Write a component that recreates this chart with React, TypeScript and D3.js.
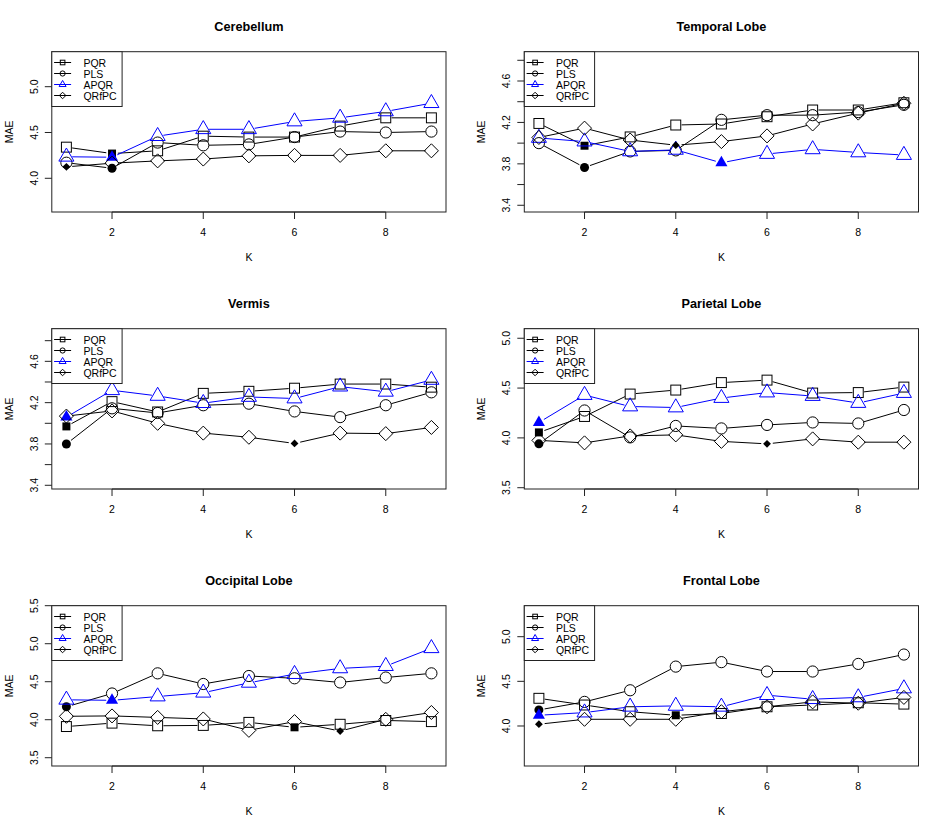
import React from "react";
import * as d3 from "d3";

const K = [1, 2, 3, 4, 5, 6, 7, 8, 9];
const methods = ["PQR", "PLS", "APQR", "QRfPC"];
const methodColors = ["#000000", "#000000", "#0000ff", "#000000"];
const regions = ["Cerebellum", "Temporal Lobe", "Vermis", "Parietal Lobe", "Occipital Lobe", "Frontal Lobe"];

// series order: PQR, PLS, APQR, QRfPC
const cerebellum = [
  [4.34, 4.27, 4.3, 4.46, 4.45, 4.45, 4.57, 4.66, 4.66],
  [4.17, 4.11, 4.39, 4.36, 4.37, 4.45, 4.51, 4.5, 4.51],
  [4.235, 4.23, 4.46, 4.535, 4.535, 4.62, 4.66, 4.73, 4.82],
  [4.125, 4.165, 4.19, 4.21, 4.245, 4.25, 4.25, 4.3, 4.3],
];
const temporal = [
  [4.19, 3.975, 4.06, 4.175, 4.185, 4.255, 4.32, 4.32, 4.39],
  [4.0, 3.765, 3.92, 3.93, 4.225, 4.27, 4.27, 4.3, 4.37],
  [4.05, 4.015, 3.92, 3.935, 3.81, 3.895, 3.94, 3.91, 3.885],
  [4.055, 4.145, 4.03, 3.98, 4.015, 4.07, 4.185, 4.29, 4.385],
];
const vermis = [
  [3.97, 4.21, 4.11, 4.29, 4.31, 4.34, 4.38, 4.38, 4.35],
  [3.8, 4.145, 4.1, 4.175, 4.19, 4.115, 4.06, 4.175, 4.3],
  [4.06, 4.32, 4.265, 4.195, 4.255, 4.24, 4.355, 4.305, 4.42],
  [4.07, 4.12, 4.0, 3.905, 3.865, 3.805, 3.905, 3.9, 3.96],
];
const parietal = [
  [4.055, 4.215, 4.44, 4.48, 4.555, 4.58, 4.45, 4.455, 4.51],
  [3.94, 4.275, 4.005, 4.12, 4.095, 4.13, 4.155, 4.145, 4.28],
  [4.155, 4.43, 4.315, 4.305, 4.4, 4.455, 4.42, 4.35, 4.45],
  [3.975, 3.95, 4.02, 4.03, 3.965, 3.94, 3.99, 3.957, 3.957],
];
const occipital = [
  [3.91, 3.955, 3.92, 3.925, 3.965, 3.9, 3.94, 3.99, 3.975],
  [4.17, 4.345, 4.61, 4.47, 4.575, 4.545, 4.49, 4.555, 4.61],
  [4.262, 4.255, 4.305, 4.355, 4.485, 4.6, 4.675, 4.705, 4.94],
  [4.045, 4.05, 4.03, 4.01, 3.86, 3.975, 3.85, 4.005, 4.095],
];
const frontal = [
  [4.31, 4.235, 4.16, 4.12, 4.14, 4.215, 4.235, 4.26, 4.245],
  [4.18, 4.27, 4.4, 4.665, 4.715, 4.61, 4.61, 4.695, 4.8],
  [4.12, 4.15, 4.215, 4.225, 4.215, 4.345, 4.3, 4.32, 4.42],
  [4.02, 4.075, 4.075, 4.075, 4.16, 4.215, 4.27, 4.255, 4.32],
];
const regionData = [cerebellum, temporal, vermis, parietal, occipital, frontal];

const yLimits = [
  [3.632, 5.382],
  [3.335, 4.883],
  [3.364, 4.916],
  [3.487, 5.096],
  [3.391, 5.5],
  [3.552, 5.347],
];
const yTicks = [
  [4.0, 4.5, 5.0],
  [3.4, 3.6, 3.8, 4.0, 4.2, 4.4, 4.6, 4.8],
  [3.4, 3.6, 3.8, 4.0, 4.2, 4.4, 4.6, 4.8],
  [3.5, 4.0, 4.5, 5.0],
  [3.5, 4.0, 4.5, 5.0, 5.5],
  [4.0, 4.5, 5.0],
];
const yLabelStep = [1, 2, 2, 1, 1, 1];
const xTicks = [2, 4, 6, 8];

const W = 945;
const H = 831;
const cellW = W / 2;
const cellH = H / 3;
const M = { left: 51.8, right: 26.5, top: 51.7, bottom: 65 };
const FONT = "'Liberation Sans', Arial, Helvetica, sans-serif";
const AX_FS = 10.5;
const TITLE_FS = 12.7;

const SQRC = 0.88622692545275801364;
const DMDC = 1.25331413731550025119;
const TRC0 = 1.55512030155621416073;
const TRC1 = 1.3467736870885983606;
const TRC2 = 0.77756015077810708036;

function Marker({ x, y, shape, color, rad, filled }: { x: number; y: number; shape: number; color: string; rad: number; filled: boolean }) {
  const fill = filled ? color : "none";
  const stroke = filled ? "none" : color;
  if (shape === 0) {
    const h = rad * SQRC;
    return <rect x={x - h} y={y - h} width={2 * h} height={2 * h} fill={fill} stroke={stroke} strokeWidth={1} />;
  }
  if (shape === 1) {
    return <circle cx={x} cy={y} r={rad} fill={fill} stroke={stroke} strokeWidth={1} />;
  }
  if (shape === 2) {
    const r = TRC0 * rad;
    const yc = TRC2 * rad;
    const xc = TRC1 * rad;
    return (
      <polygon
        points={`${x},${y - r} ${x + xc},${y + yc} ${x - xc},${y + yc}`}
        fill={fill}
        stroke={stroke}
        strokeWidth={1}
        strokeLinejoin="miter"
      />
    );
  }
  const d = filled ? rad * 0.87 : DMDC * rad;
  return (
    <polygon points={`${x},${y - d} ${x + d},${y} ${x},${y + d} ${x - d},${y}`} fill={fill} stroke={stroke} strokeWidth={1} />
  );
}

function Panel({ idx }: { idx: number }) {
  const col = idx % 2;
  const row = Math.floor(idx / 2);
  const cx0 = col * cellW;
  const cy0 = row * cellH;
  const left = cx0 + M.left;
  const right = cx0 + cellW - M.right;
  const top = cy0 + M.top;
  const bottom = cy0 + cellH - M.bottom;

  const x = d3.scaleLinear().domain([0.68, 9.32]).range([left, right]);
  const y = d3.scaleLinear().domain(yLimits[idx]).range([bottom, top]);
  const data = regionData[idx];
  const GAP = 5.8;
  const RAD = 5.6;
  const RAD_F = 4.5;

  const elems: React.ReactNode[] = [];
  data.forEach((series, si) => {
    const color = methodColors[si];
    const minIdx = d3.minIndex(series);
    const pts = series.map((v, i) => [x(K[i]), y(v)] as [number, number]);
    for (let i = 0; i < pts.length - 1; i++) {
      const [x0, y0] = pts[i];
      const [x1, y1] = pts[i + 1];
      const len = Math.hypot(x1 - x0, y1 - y0);
      if (len <= 2 * GAP) continue;
      const ux = (x1 - x0) / len;
      const uy = (y1 - y0) / len;
      elems.push(
        <line
          key={`l${si}-${i}`}
          x1={x0 + ux * GAP}
          y1={y0 + uy * GAP}
          x2={x1 - ux * GAP}
          y2={y1 - uy * GAP}
          stroke={color}
          strokeWidth={1}
        />
      );
    }
    pts.forEach(([px, py], i) => {
      const filled = i === minIdx;
      elems.push(
        <Marker key={`m${si}-${i}`} x={px} y={py} shape={si} color={color} rad={filled ? RAD_F : RAD} filled={filled} />
      );
    });
  });

  const legendW = 70.3;
  const legendH = 54.8;
  const TICK = 7;

  return (
    <g>
      <text
        x={(left + right) / 2}
        y={cy0 + 26.5}
        textAnchor="middle"
        dominantBaseline="central"
        fontFamily={FONT}
        fontWeight="bold"
        fontSize={TITLE_FS}
      >
        {regions[idx]}
      </text>
      {elems}
      <rect x={left} y={top} width={right - left} height={bottom - top} fill="none" stroke="#222" strokeWidth={1} />
      {/* x axis */}
      <line x1={x(xTicks[0])} x2={x(xTicks[xTicks.length - 1])} y1={bottom} y2={bottom} stroke="#222" />
      {xTicks.map((t) => (
        <g key={`xt${t}`}>
          <line x1={x(t)} x2={x(t)} y1={bottom} y2={bottom + TICK} stroke="#222" />
          <text
            x={x(t)}
            y={bottom + 19.7}
            textAnchor="middle"
            dominantBaseline="central"
            fontFamily={FONT}
            fontSize={AX_FS}
          >
            {t}
          </text>
        </g>
      ))}
      {/* y axis */}
      {yTicks[idx].map((t, ti) => (
        <g key={`yt${t}`}>
          <line x1={left - TICK} x2={left} y1={y(t)} y2={y(t)} stroke="#222" />
          {ti % yLabelStep[idx] === 0 ? (
            <text
              transform={`translate(${left - 18},${y(t)}) rotate(-90)`}
              textAnchor="middle"
              dominantBaseline="central"
              fontFamily={FONT}
              fontSize={AX_FS}
            >
              {t.toFixed(1)}
            </text>
          ) : null}
        </g>
      ))}
      <text
        x={(left + right) / 2}
        y={bottom + 44.7}
        textAnchor="middle"
        dominantBaseline="central"
        fontFamily={FONT}
        fontSize={AX_FS}
      >
        K
      </text>
      <text
        transform={`translate(${cx0 + 8.5},${(top + bottom) / 2}) rotate(-90)`}
        textAnchor="middle"
        dominantBaseline="central"
        fontFamily={FONT}
        fontSize={AX_FS}
      >
        MAE
      </text>
      {/* legend */}
      <rect x={left} y={top} width={legendW} height={legendH} fill="white" stroke="#222" strokeWidth={1} />
      {methods.map((m, mi) => {
        const ly = top + 10.8 + mi * 11;
        return (
          <g key={`lg${m}`}>
            <line x1={left + 2.3} x2={left + 19.3} y1={ly} y2={ly} stroke={methodColors[mi]} strokeWidth={1} />
            <Marker x={left + 10.8} y={ly} shape={mi} color={methodColors[mi]} rad={2.6} filled={false} />
            <text
              x={left + 31.6}
              y={ly}
              dominantBaseline="central"
              fontFamily={FONT}
              fontSize={AX_FS}
            >
              {m}
            </text>
          </g>
        );
      })}
    </g>
  );
}

export default function App() {
  return (
    <svg
      width={W}
      height={H}
      viewBox={`0 0 ${W} ${H}`}
      style={{ position: "absolute", left: 0, top: 0, background: "white" }}
    >
      <rect x={0} y={0} width={W} height={H} fill="white" />
      {regions.map((_, i) => (
        <Panel key={i} idx={i} />
      ))}
    </svg>
  );
}
